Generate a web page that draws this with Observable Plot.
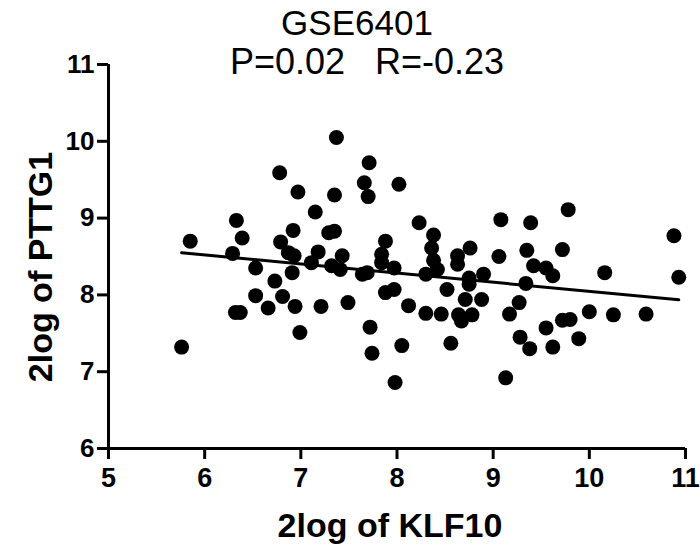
<!DOCTYPE html>
<html>
<head>
<meta charset="utf-8">
<script src="https://cdn.jsdelivr.net/npm/d3@7"></script>
<script src="https://cdn.jsdelivr.net/npm/@observablehq/plot@0.6"></script>
<style>
  html, body { margin: 0; padding: 0; background: #fff; }
  svg text { font-family: "Liberation Sans", Arial, sans-serif; }
</style>
</head>
<body>
<div id="chart"></div>
<script>
const title = "GSE6401";
const subtitle = "P=0.02   R=-0.23";
const xLabel = "2log of KLF10";
const yLabel = "2log of PTTG1";
const xTicks = [5, 6, 7, 8, 9, 10, 11];
const yTicks = [6, 7, 8, 9, 10, 11];

const klf10 = [
  5.76, 5.85, 6.29, 6.33, 6.32, 6.37, 6.39, 6.53, 6.53, 6.66,
  6.73, 6.78, 6.79, 6.81, 6.87, 6.93, 6.91, 6.92, 6.94, 6.97,
  6.99, 7.11, 7.15, 7.18, 7.21, 7.29, 7.35, 7.32, 7.35, 7.37,
  7.41, 7.43, 7.49, 7.64, 7.69, 7.66, 7.70, 7.71, 7.72, 7.74,
  7.84, 7.84, 7.88, 7.88, 7.97, 7.97, 7.98, 8.02, 8.05, 8.12,
  8.23, 8.30, 8.30, 8.36, 8.38, 8.38, 8.42, 8.46, 8.52, 8.56,
  8.63, 8.63, 8.64, 8.67, 8.78, 8.71, 8.75, 8.75, 8.76, 8.88,
  8.90, 9.06, 9.08, 9.13, 9.17, 9.27, 9.28, 9.34, 9.35, 9.38,
  9.39, 9.42, 9.55, 9.55, 9.62, 9.62, 9.72, 9.72, 9.80, 9.78,
  9.89, 10.00, 10.16, 10.25, 10.59, 10.88, 10.93
];
const pttg1 = [
  7.32, 8.70, 8.54, 8.97, 7.77, 7.77, 8.74, 8.35, 7.99, 7.83,
  8.18, 9.59, 8.69, 7.98, 8.55, 8.51, 8.29, 8.84, 7.85, 9.34,
  7.51, 8.42, 9.08, 8.56, 7.85, 8.81, 8.83, 8.38, 9.30, 10.05,
  8.33, 8.51, 7.90, 8.27, 8.29, 9.46, 9.28, 9.72, 7.58, 7.24,
  8.53, 8.42, 8.70, 8.03, 8.07, 8.35, 6.86, 9.44, 7.34, 7.86,
  8.94, 8.27, 7.76, 8.61, 8.78, 8.45, 8.33, 7.75, 8.07, 7.37,
  8.51, 8.40, 7.74, 7.66, 7.74, 7.94, 8.22, 8.14, 8.61, 7.94,
  8.27, 8.50, 8.98, 6.92, 7.75, 7.90, 7.45, 8.15, 8.58, 7.30,
  8.94, 8.38, 8.35, 7.57, 8.25, 7.32, 8.59, 7.67, 7.68, 9.11,
  7.43, 7.78, 8.29, 7.74, 7.75, 8.77, 8.23
];

const data = klf10.map((x, i) => ({x, y: pttg1[i]}));

const W = 700, H = 546;
const plot = Plot.plot({
  width: W,
  height: H,
  marginLeft: 108,
  marginRight: 15,
  marginTop: 64,
  marginBottom: 98,
  style: {fontFamily: "Liberation Sans, Arial, sans-serif", background: "white", color: "black"},
  x: {domain: [5, 11], label: null},
  y: {domain: [6, 11], label: null},
  marks: [
    Plot.axisX({ticks: xTicks, tickSize: 11, tickPadding: 8, strokeWidth: 3, fontSize: 27, fontWeight: "bold", label: null, tickFormat: d => String(d)}),
    Plot.axisY({ticks: yTicks, tickSize: 11, tickPadding: 3, strokeWidth: 3, fontSize: 26, fontWeight: "bold", label: null, tickFormat: d => String(d)}),
    Plot.ruleY([6], {stroke: "black", strokeWidth: 3}),
    Plot.ruleX([5], {stroke: "black", strokeWidth: 3}),
    Plot.dot(data, {x: "x", y: "y", r: 7.5, fill: "black", stroke: "none"}),
    Plot.linearRegressionY(data, {x: "x", y: "y", ci: 0, stroke: "black", strokeWidth: 3})
  ]
});
document.getElementById("chart").appendChild(plot);

const svg = d3.select(plot);
svg.append("text")
  .attr("x", 357).attr("y", 35)
  .attr("text-anchor", "middle")
  .attr("font-size", 35)
  .attr("fill", "black")
  .text(title);
svg.append("text")
  .attr("x", 367).attr("y", 74)
  .attr("text-anchor", "middle")
  .attr("font-size", 36)
  .attr("fill", "black")
  .style("white-space", "pre")
  .text(subtitle);
svg.append("text")
  .attr("x", 390).attr("y", 537)
  .attr("text-anchor", "middle")
  .attr("font-size", 34)
  .attr("font-weight", "bold")
  .attr("fill", "black")
  .text(xLabel);
svg.append("text")
  .attr("transform", "translate(52,267) rotate(-90)")
  .attr("text-anchor", "middle")
  .attr("font-size", 34)
  .attr("font-weight", "bold")
  .attr("fill", "black")
  .text(yLabel);
</script>
</body>
</html>
